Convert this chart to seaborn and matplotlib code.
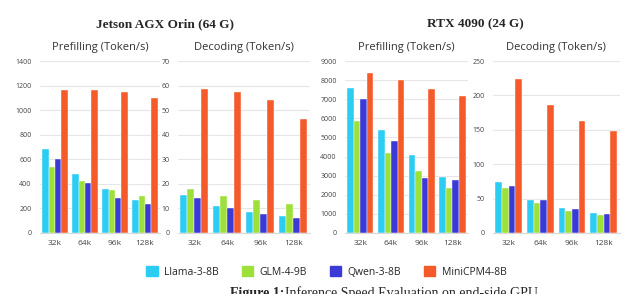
import pandas as pd
import seaborn as sns
import matplotlib.pyplot as plt

# context lengths and models
contexts = ["32k", "64k", "96k", "128k"]
models = ["Llama-3-8B", "GLM-4-9B", "Qwen-3-8B", "MiniCPM4-8B"]
colors = ["#2ccdf3", "#9de03a", "#3b3ad6", "#f55a2a"]

# Jetson AGX Orin (64 G)
jetson_prefill = {
    "Llama-3-8B": [685, 478, 357, 272],
    "GLM-4-9B": [535, 423, 353, 298],
    "Qwen-3-8B": [600, 408, 288, 232],
    "MiniCPM4-8B": [1163, 1165, 1145, 1098],
}
jetson_decode = {
    "Llama-3-8B": [15.5, 11.0, 8.5, 7.0],
    "GLM-4-9B": [17.8, 15.2, 13.4, 11.8],
    "Qwen-3-8B": [14.3, 10.1, 7.7, 6.2],
    "MiniCPM4-8B": [58.8, 57.3, 54.3, 46.3],
}

# RTX 4090 (24 G)
rtx_prefill = {
    "Llama-3-8B": [7600, 5380, 4080, 2920],
    "GLM-4-9B": [5850, 4200, 3250, 2330],
    "Qwen-3-8B": [7000, 4820, 2900, 2790],
    "MiniCPM4-8B": [8370, 8020, 7560, 7180],
}
rtx_decode = {
    "Llama-3-8B": [74, 48, 37, 29],
    "GLM-4-9B": [66, 44, 32, 26],
    "Qwen-3-8B": [69, 48, 35, 27],
    "MiniCPM4-8B": [224, 186, 163, 148],
}


def to_long(d):
    rows = []
    for m in models:
        for c, v in zip(contexts, d[m]):
            rows.append({"context": c, "model": m, "value": v})
    return pd.DataFrame(rows)


sns.set_style("white")
plt.rcParams["font.family"] = ["Open Sans", "DejaVu Sans"]

fig = plt.figure(figsize=(6.4, 2.94), dpi=100)

panels = [
    (jetson_prefill, [0.0625, 0.2075, 0.1875, 0.585], 1400, 200, "Prefilling (Token/s)"),
    (jetson_decode, [0.278, 0.2075, 0.206, 0.585], 70, 10, "Decoding (Token/s)"),
    (rtx_prefill, [0.539, 0.2075, 0.192, 0.585], 9000, 1000, "Prefilling (Token/s)"),
    (rtx_decode, [0.770, 0.2075, 0.198, 0.585], 250, 50, "Decoding (Token/s)"),
]

for data, pos, ymax, step, sub in panels:
    ax = fig.add_axes(pos)
    sns.barplot(data=to_long(data), x="context", y="value", hue="model",
                palette=colors, width=0.85, gap=0, saturation=1,
                edgecolor="white", linewidth=0.3, legend=False, ax=ax)
    ax.set_ylim(0, ymax)
    ax.set_yticks(range(0, ymax + 1, step))
    ax.set_xlim(-0.5, 3.5)
    ax.grid(axis="y", color="#e6e6e6", linewidth=0.8)
    ax.set_axisbelow(True)
    for s in ["top", "right", "left"]:
        ax.spines[s].set_visible(False)
    ax.spines["bottom"].set_color("#d9d9d9")
    ax.tick_params(axis="y", labelsize=5, colors="#444444", length=0, pad=6)
    ax.tick_params(axis="x", labelsize=6, colors="#444444", length=0, pad=5)
    ax.set_xlabel("")
    ax.set_ylabel("")
    ax.set_title(sub, fontsize=8, color="#333333", pad=8)

fig.text(0.258, 0.918, "Jetson AGX Orin (64 G)", ha="center", va="center",
         fontsize=9.5, fontweight="bold", family="Liberation Serif")
fig.text(0.742, 0.918, "RTX 4090 (24 G)", ha="center", va="center",
         fontsize=9.5, fontweight="bold", family="Liberation Serif")

handles = [plt.Rectangle((0, 0), 1, 1, color=c) for c in colors]
fig.legend(handles, models, loc="center", bbox_to_anchor=(0.51, 0.075), ncol=4,
           frameon=False, fontsize=7.5, handlelength=1.1, handleheight=1.1,
           columnspacing=2.2, handletextpad=0.6)

fig.text(0.36, 0.025, "Figure 1:", ha="left", va="top", fontsize=10,
         fontweight="bold", family="Liberation Serif")
fig.text(0.445, 0.025, "Inference Speed Evaluation on end-side GPU", ha="left",
         va="top", fontsize=10, family="Liberation Serif")

fig.savefig("out.png", dpi=100)
